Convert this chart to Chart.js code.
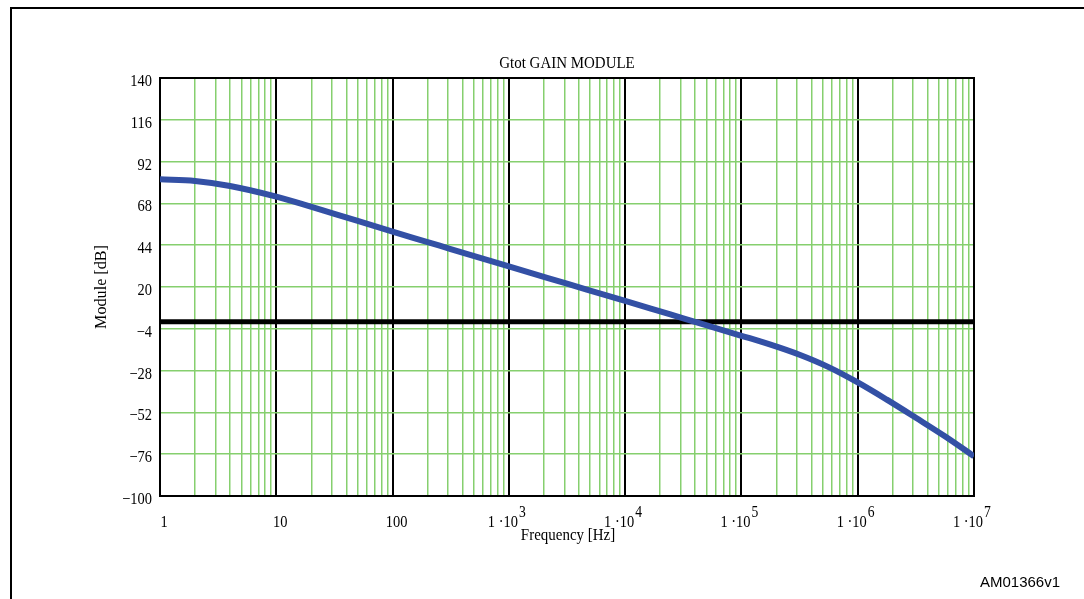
<!DOCTYPE html>
<html>
<head>
<meta charset="utf-8">
<script src="https://cdn.jsdelivr.net/npm/chart.js@4.4.1/dist/chart.umd.min.js"></script>
<style>
  html, body { margin: 0; padding: 0; background: #fff; }
  #frame { position: absolute; left: 10px; top: 7px; width: 1200px; height: 700px; border: 2px solid #000; }
  #wrap { position: absolute; left: 0; top: 0; width: 1084px; height: 599px; overflow: hidden; }
  canvas { position: absolute; left: 0; top: 0; }
</style>
</head>
<body>
<div id="wrap">
  <div id="frame"></div>
  <canvas id="c" width="1084" height="599"></canvas>
</div>
<script>
// ---- data ----
const frequencies = [1, 2, 4, 10, 16, 31.6, 100, 200, 316, 1000, 3162, 10000, 17800, 31623, 100000, 178000, 316228, 562000, 1000000, 1780000, 3162000, 5620000, 10000000];
const gainDb      = [81.8, 80.9, 78.0, 71.9, 68.0, 62.0, 51.8, 45.8, 41.8, 31.8, 21.9, 12.0, 7.0, 2.0, -8.0, -13.1, -18.9, -26.0, -34.8, -44.7, -55.1, -65.7, -77.2];
const zeroLineX   = [1, 10000000];
const zeroLineY   = [0, 0];
const yTickLabels = ['140', '116', '92', '68', '44', '20', '\u22124', '\u221228', '\u221252', '\u221276', '\u2212100'];
const yTickValues = [140, 116, 92, 68, 44, 20, -4, -28, -52, -76, -100];
const xDecades    = [0, 1, 2, 3, 4, 5, 6, 7];
const chartTitle  = 'Gtot GAIN MODULE';
const xTitle      = 'Frequency [Hz]';
const yTitle      = 'Module [dB]';
const figureCode  = 'AM01366v1';

const GREEN = '#86cf6e';
const SERIF = '"Liberation Serif", "DejaVu Serif", serif';

const curvePoints = frequencies.map((f, i) => ({ x: f, y: gainDb[i] }));
const zeroPoints = zeroLineX.map((f, i) => ({ x: f, y: zeroLineY[i] }));

// draws serif text slightly condensed (tall, narrow look of the original)
function txt(ctx, s, x, y, align, size, sx) {
  ctx.save();
  ctx.translate(x, y);
  ctx.scale(sx, 1);
  ctx.font = size + 'px ' + SERIF;
  ctx.textAlign = align;
  ctx.fillText(s, 0, 0);
  const w = ctx.measureText(s).width * sx;
  ctx.restore();
  return w;
}

const labelsPlugin = {
  id: 'labels',
  beforeDatasetsDraw(chart) {
    const { ctx, chartArea: a } = chart;
    ctx.save();
    ctx.strokeStyle = '#000';
    ctx.lineWidth = 2;
    ctx.strokeRect(a.left, a.top, a.right - a.left, a.bottom - a.top);
    ctx.restore();
  },
  afterDraw(chart) {
    const { ctx, chartArea: a, scales } = chart;
    const xs = scales.x, ys = scales.y;
    ctx.save();
    ctx.fillStyle = '#000';
    ctx.textBaseline = 'alphabetic';
    // y tick labels
    yTickValues.forEach((v, i) => {
      txt(ctx, yTickLabels[i], a.left - 8, ys.getPixelForValue(v) + 8, 'right', 17, 0.85);
    });
    // x tick labels
    xDecades.forEach(k => {
      const px = xs.getPixelForValue(Math.pow(10, k));
      if (k < 3) {
        txt(ctx, String(Math.pow(10, k)), px + 4, 527, 'center', 17, 0.85);
      } else {
        const w = txt(ctx, '1 \u00b710', px - 6, 527, 'center', 17, 0.85);
        txt(ctx, String(k), px - 6 + w / 2 + 1, 517, 'left', 16, 0.85);
      }
    });
    // titles
    txt(ctx, chartTitle, (a.left + a.right) / 2, 68, 'center', 17, 0.88);
    txt(ctx, xTitle, (a.left + a.right) / 2 + 1, 540, 'center', 17, 0.88);
    ctx.save();
    ctx.translate(102, (a.top + a.bottom) / 2);
    ctx.rotate(-Math.PI / 2);
    ctx.textBaseline = 'middle';
    txt(ctx, yTitle, 0, 0, 'center', 17, 0.95);
    ctx.restore();
    // figure code
    ctx.font = '15px "Liberation Sans", Arial, sans-serif';
    ctx.textAlign = 'left';
    ctx.textBaseline = 'alphabetic';
    ctx.fillText(figureCode, 980, 587);
    ctx.restore();
  }
};

new Chart(document.getElementById('c'), {
  type: 'line',
  data: {
    datasets: [
      {
        data: curvePoints,
        borderColor: '#3350a5',
        borderWidth: 6,
        pointRadius: 0,
        fill: false,
        cubicInterpolationMode: 'monotone'
      },
      {
        data: zeroPoints,
        borderColor: '#000',
        borderWidth: 5,
        pointRadius: 0,
        fill: false
      }
    ]
  },
  options: {
    responsive: false,
    animation: false,
    devicePixelRatio: 1,
    layout: { padding: { left: 160, top: 78, right: 110, bottom: 103 } },
    plugins: { legend: { display: false }, tooltip: { enabled: false } },
    scales: {
      x: {
        type: 'logarithmic',
        min: 1,
        max: 10000000,
        afterFit(s) { s.height = 0; },
        afterBuildTicks(s) {
          const t = [];
          for (let k = 0; k < 7; k++) {
            for (let m = 1; m <= 9; m++) t.push({ value: m * Math.pow(10, k), major: m === 1 });
          }
          t.push({ value: 10000000, major: true });
          s.ticks = t;
        },
        ticks: { display: false },
        border: { display: false },
        grid: {
          drawTicks: false,
          color: c => (c.tick && c.tick.major) ? '#000' : GREEN,
          lineWidth: c => (c.tick && c.tick.major) ? 2 : 1.5
        }
      },
      y: {
        type: 'linear',
        min: -100,
        max: 140,
        afterFit(s) { s.width = 0; },
        afterBuildTicks(s) { s.ticks = yTickValues.map(v => ({ value: v })); },
        ticks: { display: false },
        border: { display: false },
        grid: { drawTicks: false, color: GREEN, lineWidth: 1.5 }
      }
    }
  },
  plugins: [labelsPlugin]
});
</script>
</body>
</html>
